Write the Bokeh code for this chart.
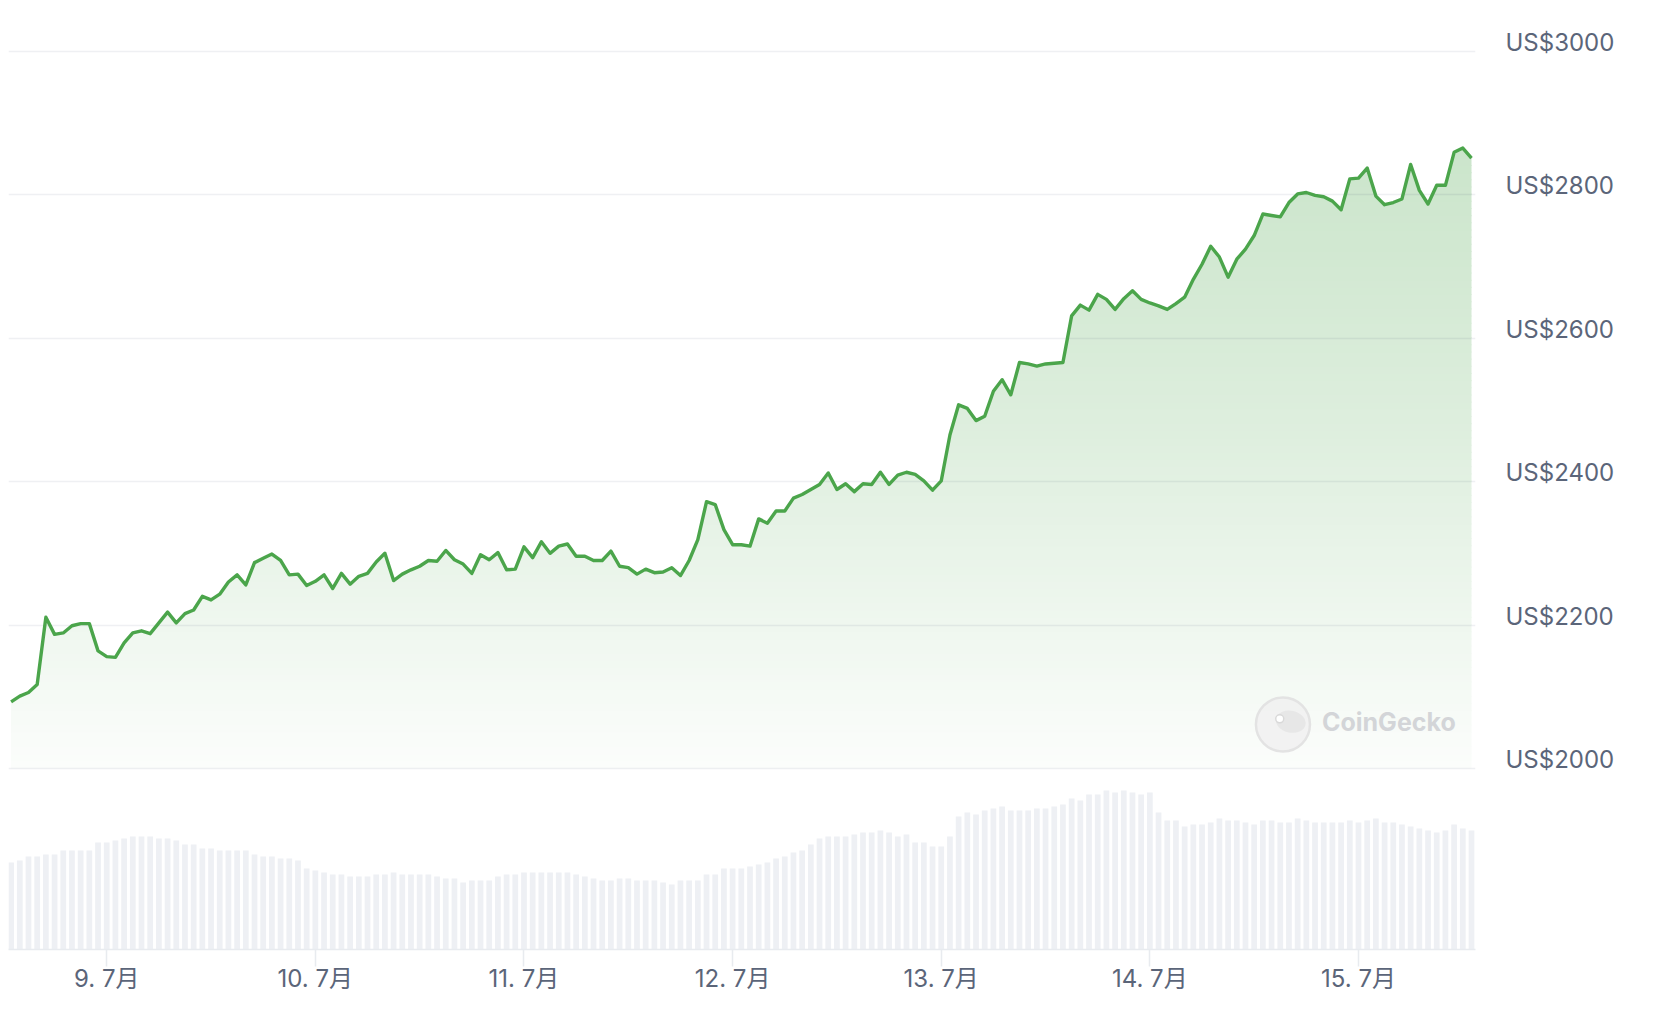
import numpy as np
from bokeh.plotting import figure
from bokeh.models import Range1d, LinearAxis, FixedTicker, Grid, Label
from bokeh.embed import file_html
from bokeh.resources import INLINE

# ---------------- data ----------------
start_hour = 13  # first sample: 8 July 13:00 (hours counted from 8 July 00:00)

price = [
    2093, 2101, 2106, 2117, 2211, 2187, 2189, 2199, 2202, 2202,
    2164, 2156, 2155, 2175, 2189, 2192, 2188, 2203, 2218, 2203,
    2216, 2221, 2240, 2235, 2243, 2260, 2270, 2256, 2287, 2293,
    2299, 2290, 2270, 2271, 2255, 2261, 2270, 2251, 2272, 2257,
    2268, 2272, 2288, 2300, 2262, 2271, 2277, 2282, 2290, 2289,
    2304, 2291, 2285, 2272, 2298, 2291, 2301, 2277, 2278, 2309,
    2294, 2316, 2300, 2310, 2313, 2296, 2296, 2290, 2290, 2303,
    2282, 2280, 2271, 2278, 2273, 2274, 2280, 2269, 2290, 2319,
    2372, 2368, 2333, 2312, 2312, 2310, 2348, 2342, 2359, 2359,
    2377, 2382, 2389, 2396, 2412, 2389, 2397, 2386, 2397, 2396,
    2413, 2396, 2409, 2413, 2410, 2401, 2388, 2401, 2465, 2507,
    2502, 2485, 2491, 2526, 2542, 2521, 2566, 2564, 2561, 2564,
    2565, 2566, 2631, 2646, 2639, 2661, 2654, 2640, 2655, 2666,
    2654, 2649, 2645, 2640, 2648, 2657, 2682, 2703, 2728, 2713,
    2685, 2710, 2724, 2743, 2773, 2771, 2769, 2789, 2801, 2803,
    2799, 2797, 2791, 2779, 2822, 2823, 2837, 2798, 2786, 2789,
    2794, 2842, 2806, 2787, 2813, 2813, 2859, 2865, 2851,
]

volume = [
    87, 89, 93, 93, 95, 95, 99, 99, 99, 99,
    107, 107, 109, 111, 113, 113, 113, 111, 111, 109,
    105, 105, 101, 101, 99, 99, 99, 99, 95, 93,
    93, 91, 91, 89, 81, 79, 77, 75, 75, 73,
    73, 73, 75, 75, 77, 75, 75, 75, 75, 73,
    71, 71, 67, 69, 69, 69, 73, 75, 75, 77,
    77, 77, 77, 77, 77, 75, 73, 71, 69, 69,
    71, 71, 69, 69, 69, 67, 65, 69, 69, 69,
    75, 75, 81, 81, 81, 83, 85, 87, 91, 93,
    97, 99, 105, 111, 113, 113, 113, 115, 117, 117,
    119, 117, 113, 115, 107, 107, 103, 103, 113, 133,
    137, 135, 139, 141, 143, 139, 139, 139, 141, 141,
    143, 145, 151, 149, 155, 155, 159, 157, 159, 157,
    155, 157, 137, 129, 129, 123, 125, 125, 127, 131,
    129, 129, 127, 125, 129, 129, 127, 127, 131, 129,
    127, 127, 127, 127, 129, 127, 129, 131, 127, 127,
    125, 123, 121, 119, 117, 119, 125, 121, 119,
]

hours = [start_hour + i for i in range(len(price))]

x_ticks = [24, 48, 72, 96, 120, 144, 168]
x_tick_labels = ["9. 7月", "10. 7月", "11. 7月", "12. 7月", "13. 7月", "14. 7月", "15. 7月"]
y_ticks = [2000, 2200, 2400, 2600, 2800, 3000]
y_tick_labels = ["US$2000", "US$2200", "US$2400", "US$2600", "US$2800", "US$3000"]

# ---------------- styling ----------------
LINE_GREEN = "#4ba54b"
FILL_RGB = (75, 165, 75)
TEXT = "#5b6579"
BAR = "#eef0f4"
FONT = "Inter"

Y_START, Y_END = 1747.7, 3059.5
LABEL_SHIFT = 12.5  # price units, lifts the right labels above their grid lines

p = figure(width=1625, height=1009,
           x_range=Range1d(12.70, 181.46),
           y_range=Range1d(Y_START, Y_END),
           x_axis_location="below", y_axis_location=None,
           toolbar_location=None, output_backend="svg",
           min_border_left=8, min_border_top=8,
           min_border_right=150, min_border_bottom=60)
p.outline_line_color = None
p.background_fill_color = "white"
p.border_fill_color = "white"
for g in p.xgrid:
    g.visible = False
for g in p.ygrid:
    g.visible = False

p.extra_y_ranges = {
    "vol": Range1d(0, 941),
    "lab": Range1d(Y_START - LABEL_SHIFT, Y_END - LABEL_SHIFT),
}

# ---- gradient fill under the price line (bands, then a white mask above the line)
levels = np.arange(2000, 2910, 10)
stops_p = [2000, 2070, 2220, 2490, 2845, 2910]
stops_a = [0.02, 0.045, 0.095, 0.19, 0.285, 0.30]


def blend(a):
    return "#%02x%02x%02x" % tuple(int(round(255 - a * (255 - c))) for c in FILL_RGB)


band_bottom = levels[:-1]
band_top = levels[1:] + 1.5
band_colors = [blend(np.interp((lo + hi) / 2.0, stops_p, stops_a))
               for lo, hi in zip(levels[:-1], levels[1:])]
p.quad(left=hours[0], right=hours[-1], bottom=band_bottom, top=band_top,
       fill_color=band_colors, line_color=None, level="image")
mask_x = [hours[0] - 1] + hours + [hours[-1] + 1]
mask_y = [price[0]] + price + [price[-1]]
p.varea(x=mask_x, y1=mask_y, y2=[3100] * len(mask_x), fill_color="white",
        level="image")

# ---- horizontal grid lines
grid = Grid(dimension=1, ticker=FixedTicker(ticks=y_ticks),
            grid_line_color="#1e2a50", grid_line_alpha=0.07, grid_line_width=1.5)
p.add_layout(grid)

# ---- volume bars
p.vbar(x=hours, top=volume, bottom=0, width=0.66, y_range_name="vol",
       fill_color=BAR, line_color=None)

# ---- price line
p.line(hours, price, line_color=LINE_GREEN, line_width=3.4, line_join="round")

# ---- watermark
wm_x, wm_y = 159.31, 2061.3
p.circle(x=[wm_x], y=[wm_y], radius=27, radius_units="screen",
         fill_color="#f1f1f1", fill_alpha=0.9, line_color="#e3e3e3", line_width=2.5)
p.ellipse(x=[wm_x + 0.9], y=[wm_y + 4], width=30, height=22, angle=-0.2,
          width_units="screen", height_units="screen",
          fill_color="#e7e7e7", line_color=None)
p.circle(x=[wm_x - 0.37], y=[wm_y + 8], radius=4, radius_units="screen",
         fill_color="white", line_color="#d9d9d9", line_width=1.5)
p.add_layout(Label(x=wm_x, y=wm_y, x_offset=39, y_offset=3, text="CoinGecko",
                   text_font=FONT, text_font_size="25px", text_font_style="bold",
                   text_color="#d3d5d8", text_baseline="middle", text_align="left"))

# ---- x axis
xa = p.xaxis[0]
xa.ticker = FixedTicker(ticks=x_ticks)
xa.major_label_overrides = {t: l for t, l in zip(x_ticks, x_tick_labels)}
xa.major_tick_in = 0
xa.major_tick_out = 17
xa.minor_tick_line_color = None
xa.major_tick_line_color = "#e8ebef"
xa.major_tick_line_width = 1.5
xa.axis_line_color = "#e8ebef"
xa.axis_line_width = 1.5
xa.major_label_standoff = -3
xa.major_label_text_font = "Inter, 'Noto Sans CJK SC'"
xa.major_label_text_font_size = "24px"
xa.major_label_text_color = TEXT

# ---- right price labels
ya = LinearAxis(y_range_name="lab", ticker=FixedTicker(ticks=y_ticks))
ya.major_label_overrides = {t: l for t, l in zip(y_ticks, y_tick_labels)}
ya.axis_line_color = None
ya.major_tick_line_color = None
ya.minor_tick_line_color = None
ya.major_tick_in = 0
ya.major_tick_out = 0
ya.major_label_standoff = 30
ya.major_label_text_font = FONT
ya.major_label_text_font_size = "24px"
ya.major_label_text_color = TEXT
p.add_layout(ya, "right")

open("out.html", "w").write(file_html(p, INLINE))
